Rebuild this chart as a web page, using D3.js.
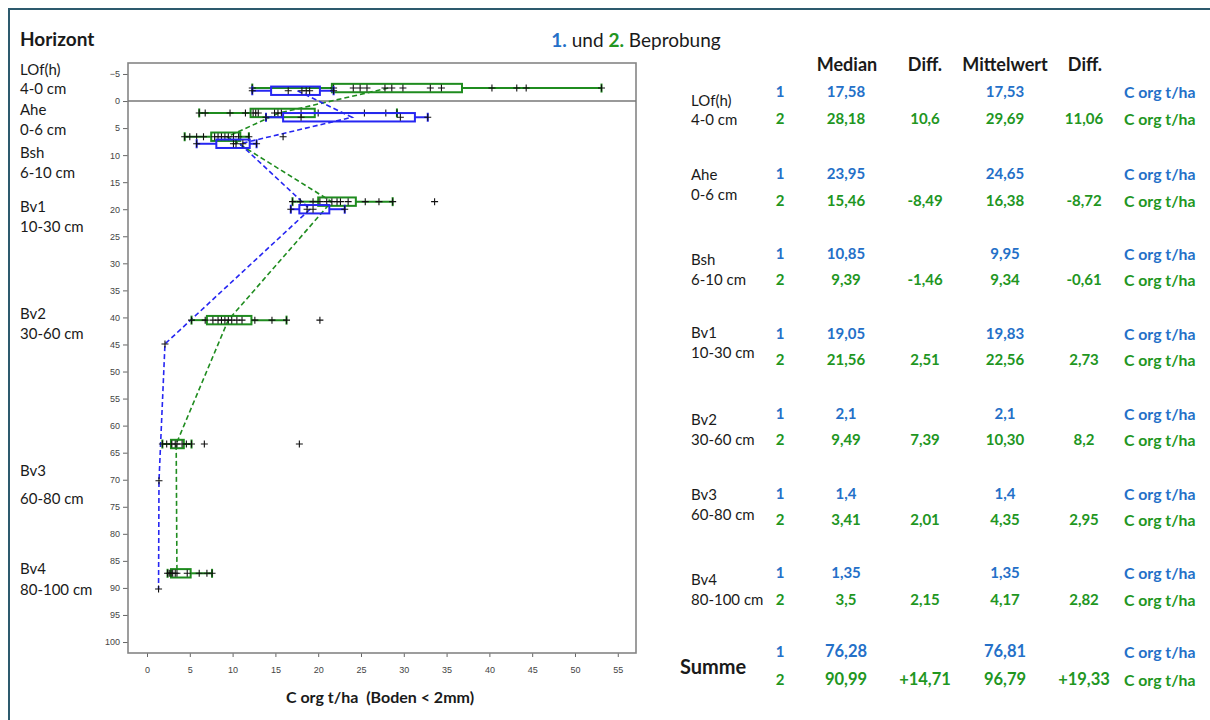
<!DOCTYPE html>
<html><head><meta charset="utf-8">
<script src="https://cdn.jsdelivr.net/npm/d3@7"></script>
<style>
html,body{margin:0;padding:0;background:#fff;}
svg{display:block;}
text{white-space:pre;}
</style></head>
<body>
<svg id="chart" width="1210" height="720"></svg>
<script>
// ---------------- DATA ----------------
const horizons = ["LOf(h)", "Ahe", "Bsh", "Bv1", "Bv2", "Bv3", "Bv4"];
const depthLabels = ["4-0 cm", "0-6 cm", "6-10 cm", "10-30 cm", "30-60 cm", "60-80 cm", "80-100 cm"];

// depth (cm) at which each sampling's box is drawn
const depth1 = [-1.9, 3.0, 7.9, 20.0, 44.9, 70.2, 90.2];
const depth2 = [-2.4, 2.2, 6.6, 18.6, 40.5, 63.4, 87.3];

// sampling 1 (C org t/ha)
const whiskerLow1  = [12.3, 13.9, 5.8, 16.8, 2.1, 1.4, 1.35];
const q1_1         = [14.5, 15.9, 8.1, 17.8, 2.1, 1.4, 1.35];
const q3_1         = [20.2, 31.3, 12.0, 21.3, 2.1, 1.4, 1.35];
const whiskerHigh1 = [21.8, 32.8, 12.8, 23.1, 2.1, 1.4, 1.35];
const points1 = [
  [12.3, 16.5, 18.1, 18.6, 19.0, 21.8],
  [13.9, 18.0, 29.6, 32.8],
  [5.8, 10.1, 10.4, 11.2, 12.8],
  [16.8, 18.7, 19.4, 23.1],
  [2.1],
  [1.4],
  [1.35]
];

// sampling 2 (C org t/ha)
const whiskerLow2  = [12.3, 6.1, 4.4, 17.0, 5.2, 1.8, 2.4];
const q1_2         = [21.6, 12.1, 7.5, 20.0, 7.0, 2.8, 2.8];
const q3_2         = [36.8, 19.6, 10.9, 24.4, 12.2, 4.3, 5.1];
const whiskerHigh2 = [53.1, 29.2, 11.9, 28.7, 16.3, 5.2, 7.6];
const points2 = [
  [12.3, 21.8, 24.1, 24.9, 25.7, 27.8, 28.6, 29.9, 33.1, 34.4, 40.3, 43.2, 44.3, 53.1],
  [6.1, 6.8, 9.7, 11.5, 12.4, 12.7, 13.0, 14.9, 15.3, 15.7, 18.0, 20.0, 25.4, 27.9, 29.2],
  [4.4, 5.0, 5.8, 6.6, 7.9, 8.3, 8.7, 9.1, 9.5, 10.1, 10.7, 11.9, 15.9],
  [17.0, 17.9, 19.4, 20.2, 21.0, 21.6, 22.2, 22.6, 23.5, 25.5, 27.1, 28.7, 33.6],
  [5.2, 6.8, 7.7, 8.3, 8.7, 9.1, 9.5, 9.9, 10.5, 11.1, 12.6, 14.6, 16.3, 20.2],
  [1.8, 2.3, 2.9, 3.3, 3.5, 4.1, 4.6, 5.2, 6.7, 17.8],
  [2.4, 2.6, 2.8, 3.0, 3.3, 3.5, 4.7, 6.1, 7.0, 7.6]
];

const median1 = [17.58, 23.95, 10.85, 19.05, 2.1, 1.4, 1.35];
const median2 = [28.18, 15.46, 9.39, 21.56, 9.49, 3.41, 3.5];

// table texts
const medianText1 = ["17,58", "23,95", "10,85", "19,05", "2,1", "1,4", "1,35"];
const medianText2 = ["28,18", "15,46", "9,39", "21,56", "9,49", "3,41", "3,5"];
const diffMedianText = ["10,6", "-8,49", "-1,46", "2,51", "7,39", "2,01", "2,15"];
const meanText1 = ["17,53", "24,65", "9,95", "19,83", "2,1", "1,4", "1,35"];
const meanText2 = ["29,69", "16,38", "9,34", "22,56", "10,30", "4,35", "4,17"];
const diffMeanText = ["11,06", "-8,72", "-0,61", "2,73", "8,2", "2,95", "2,82"];
const sumMedian = ["76,28", "90,99"];
const sumMean = ["76,81", "96,79"];
const sumDiff = ["+14,71", "+19,33"];
const unitText = "C org t/ha";
const headers = ["Median", "Diff.", "Mittelwert", "Diff."];
const xTicks = d3.range(0, 56, 5);
const yTicks = d3.range(-5, 101, 5);

// ---------------- STYLE / LAYOUT ----------------
const BLUE = "#2626f2", GREEN = "#1f8c1f";
const TBLUE = "#2470c8", TGREEN = "#22961f";
const FONT = "Lato, 'Open Sans', sans-serif";
const AXFONT = "'Liberation Sans', Arial, sans-serif";

const svg = d3.select("#chart");
svg.append("rect").attr("width", 1210).attr("height", 720).attr("fill", "#fff");
// outer frame (top + left)
svg.append("path").attr("d", "M9,720V9H1210").attr("fill", "none")
  .attr("stroke", "#2d5a6d").attr("stroke-width", 2);

const plot = {l: 128, r: 636, t: 63, b: 653};
const x = d3.scaleLinear().domain([-2.22, 57.13]).range([plot.l, plot.r]);
const y = d3.scaleLinear().domain([-7.03, 102.03]).range([plot.t, plot.b]);

// axes
const yAxis = svg.append("g").attr("transform", `translate(${plot.l},0)`)
  .call(d3.axisLeft(y).tickValues(yTicks).tickSize(5).tickPadding(3));
const xAxis = svg.append("g").attr("transform", `translate(0,${plot.b})`)
  .call(d3.axisBottom(x).tickValues(xTicks).tickSize(4).tickPadding(10));
[yAxis, xAxis].forEach(g => {
  g.select(".domain").remove();
  g.selectAll(".tick line").attr("stroke", "#666");
  g.selectAll(".tick text").attr("fill", "#444").style("font-family", AXFONT).style("font-size", "9px");
});

svg.append("rect").attr("x", plot.l).attr("y", plot.t)
  .attr("width", plot.r - plot.l).attr("height", plot.b - plot.t)
  .attr("fill", "none").attr("stroke", "#858585").attr("stroke-width", 1.6);
svg.append("line").attr("x1", plot.l).attr("x2", plot.r)
  .attr("y1", y(0)).attr("y2", y(0)).attr("stroke", "#777").attr("stroke-width", 1.6);

// dashed median connections
const lineGen = d3.line().x(d => x(d[0])).y(d => y(d[1]));
svg.append("path").datum(median2.map((m, i) => [m, depth2[i]]))
  .attr("d", lineGen).attr("fill", "none").attr("stroke", GREEN)
  .attr("stroke-width", 1.6).attr("stroke-dasharray", "5,3");
svg.append("path").datum(median1.map((m, i) => [m, depth1[i]]))
  .attr("d", lineGen).attr("fill", "none").attr("stroke", BLUE)
  .attr("stroke-width", 1.6).attr("stroke-dasharray", "5,3");

// box plots
function drawSeries(depth, wl, q1, q3, wh, pts, color) {
  const g = svg.append("g");
  horizons.forEach((h, i) => {
    const cy = y(depth[i]);
    if (wh[i] > wl[i]) {
      g.append("line").attr("x1", x(wl[i])).attr("x2", x(q1[i])).attr("y1", cy).attr("y2", cy)
        .attr("stroke", color).attr("stroke-width", 2);
      g.append("line").attr("x1", x(q3[i])).attr("x2", x(wh[i])).attr("y1", cy).attr("y2", cy)
        .attr("stroke", color).attr("stroke-width", 2);
      [wl[i], wh[i]].forEach(v => g.append("line").attr("x1", x(v)).attr("x2", x(v))
        .attr("y1", cy - 4.5).attr("y2", cy + 4.5).attr("stroke", color).attr("stroke-width", 2));
    }
    if (q3[i] > q1[i]) {
      g.append("rect").attr("x", x(q1[i])).attr("y", cy - 4.2)
        .attr("width", x(q3[i]) - x(q1[i])).attr("height", 8.4)
        .attr("fill", "none").attr("stroke", color).attr("stroke-width", 2);
    }
    g.selectAll(null).data(pts[i]).enter().append("path")
      .attr("d", "M-3.5,0H3.5M0,-3.5V3.5")
      .attr("transform", v => `translate(${x(v)},${cy})`)
      .attr("stroke", "#111").attr("stroke-width", 1.1).attr("fill", "none");
  });
}
drawSeries(depth2, whiskerLow2, q1_2, q3_2, whiskerHigh2, points2, GREEN);
drawSeries(depth1, whiskerLow1, q1_1, q3_1, whiskerHigh1, points1, BLUE);

// left labels
function txt(xp, yp, s, opts = {}) {
  return svg.append("text").attr("x", xp).attr("y", yp).text(s)
    .attr("dominant-baseline", "central")
    .attr("text-anchor", opts.anchor || "start")
    .attr("fill", opts.fill || "#1a1a1a")
    .style("font-family", FONT)
    .style("font-size", (opts.size || 15) + "px")
    .style("font-weight", opts.bold ? "bold" : "normal");
}
txt(20, 38, "Horizont", {bold: true, size: 19});
const leftNameY = [69, 109, 152, 206, 313, 470, 568];
const leftRangeY = [88, 129, 172, 226, 333, 498, 589];
horizons.forEach((h, i) => {
  txt(20, leftNameY[i], h);
  txt(20, leftRangeY[i], depthLabels[i]);
});

// x axis title
txt(380, 696, "C org t/ha  (Boden < 2mm)", {bold: true, size: 16, anchor: "middle"});

// title
const title = svg.append("text").attr("x", 636).attr("y", 39).attr("text-anchor", "middle")
  .attr("dominant-baseline", "central").style("font-family", FONT).style("font-size", "19px").attr("fill", "#1a1a1a");
title.append("tspan").text("1.").attr("fill", TBLUE).style("font-weight", "bold");
title.append("tspan").text(" und ");
title.append("tspan").text("2.").attr("fill", TGREEN).style("font-weight", "bold");
title.append("tspan").text(" Beprobung");

// table
const colX = {num: 780, med: 846, d1: 925, mean: 1005, d2: 1084, unit: 1124};
const hdrX = [847, 925, 1005, 1085];
headers.forEach((hd, i) => txt(hdrX[i], 64, hd, {bold: true, size: 18, anchor: "middle"}));
const row1Y = [91, 173, 253, 333, 413, 493, 572];
const row2Y = [118, 200, 279, 359, 439, 519, 599];
const tNameY = [100, 174, 259, 332, 419, 494, 579];
const tRangeY = [119, 194, 279, 352, 439, 514, 599];
horizons.forEach((h, i) => {
  txt(691, tNameY[i], h);
  txt(691, tRangeY[i], depthLabels[i]);
  const b = {bold: true, fill: TBLUE, anchor: "middle"};
  const g = {bold: true, fill: TGREEN, anchor: "middle"};
  const ub = {bold: true, fill: TBLUE, size: 15.8};
  const ug = {bold: true, fill: TGREEN, size: 15.8};
  txt(colX.num, row1Y[i], "1", b);
  txt(colX.med, row1Y[i], medianText1[i], b);
  txt(colX.mean, row1Y[i], meanText1[i], b);
  txt(colX.unit, row1Y[i], unitText, ub);
  txt(colX.num, row2Y[i], "2", g);
  txt(colX.med, row2Y[i], medianText2[i], g);
  txt(colX.d1, row2Y[i], diffMedianText[i], g);
  txt(colX.mean, row2Y[i], meanText2[i], g);
  txt(colX.d2, row2Y[i], diffMeanText[i], g);
  txt(colX.unit, row2Y[i], unitText, ug);
});
// Summe
txt(680, 666, "Summe", {bold: true, size: 20});
[651, 679].forEach((ry, k) => {
  const col = k === 0 ? TBLUE : TGREEN;
  const o = {bold: true, fill: col, anchor: "middle", size: 16.5};
  txt(colX.num, ry, String(k + 1), {bold: true, fill: col, anchor: "middle"});
  txt(colX.med, ry, sumMedian[k], o);
  txt(colX.mean, ry, sumMean[k], o);
  if (k === 1) {
    txt(colX.d1, ry, sumDiff[0], o);
    txt(colX.d2, ry, sumDiff[1], o);
  }
  txt(colX.unit, ry, unitText, {bold: true, fill: col, size: 15.8});
});
</script>
</body></html>
